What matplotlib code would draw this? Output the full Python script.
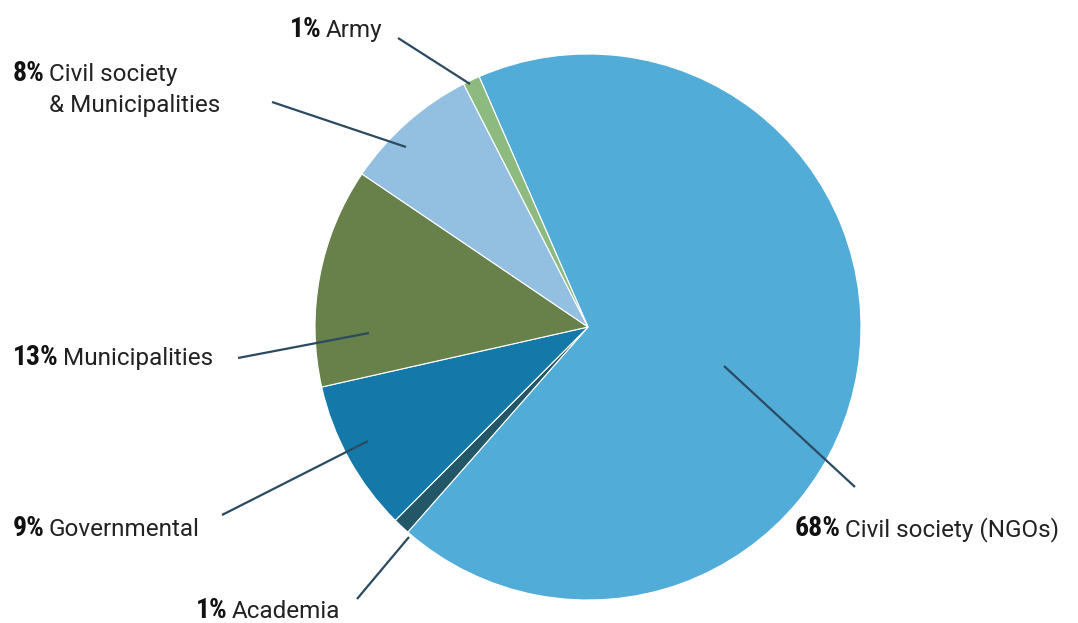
import matplotlib.pyplot as plt
from matplotlib.font_manager import FontProperties

# slices, clockwise from the top
sectors = ["Civil society (NGOs)", "Academia", "Governmental", "Municipalities",
           "Civil society\n& Municipalities", "Army"]
shares = [68, 1, 9, 13, 8, 1]
colors = ["#52acd8", "#235666", "#1479a8", "#68804a", "#93bfe0", "#8dbb7f"]

# label layout (pixels, y from top = baseline): text pos, leader line ends
label_pos = [(795, 536), (196, 618), (13, 536), (13, 365), (13, 81), (290, 37)]
line_out = [(855, 487), (357, 599), (222, 515), (238, 358), (272, 102), (398, 38)]
line_in = [(724, 366), (409, 537), (368, 441), (369, 333), (406, 147), (470, 84)]

W, H = 1078, 623
fig = plt.figure(figsize=(W / 100, H / 100), dpi=100)
ax = fig.add_axes([0, 0, 1, 1])
ax.set_xlim(0, W)
ax.set_ylim(0, H)
ax.set_aspect("equal")
ax.axis("off")

ax.pie(shares, colors=colors, startangle=113.5, counterclock=False,
       center=(588, H - 327), radius=273,
       wedgeprops=dict(edgecolor="white", linewidth=0.8))
ax.set_xlim(0, W)
ax.set_ylim(0, H)

for (x0, y0), (x1, y1) in zip(line_out, line_in):
    ax.plot([x0, x1], [H - y0, H - y1], color="#2b4b60", lw=1.6,
            solid_capstyle="butt")

bold_fp = FontProperties(family=["Roboto Condensed", "Oswald", "DejaVu Sans"],
                         weight="bold", size=20)
reg_fp = FontProperties(family=["Roboto", "DejaVu Sans"], size=17.5)

fig.canvas.draw()
rend = fig.canvas.get_renderer()
for name, val, (x, y) in zip(sectors, shares, label_pos):
    t = ax.text(x, H - y, f"{val}%", fontproperties=bold_fp, va="baseline",
                ha="left", color="#111111")
    bb = t.get_window_extent(rend)
    x2 = bb.x1 + 4
    lines = name.split("\n")
    ax.text(x2, H - y, lines[0], fontproperties=reg_fp, va="baseline",
            ha="left", color="#222222")
    if len(lines) > 1:
        ax.text(x2, H - y - 31, lines[1], fontproperties=reg_fp, va="baseline",
                ha="left", color="#222222")

fig.savefig("out.png", dpi=100)
